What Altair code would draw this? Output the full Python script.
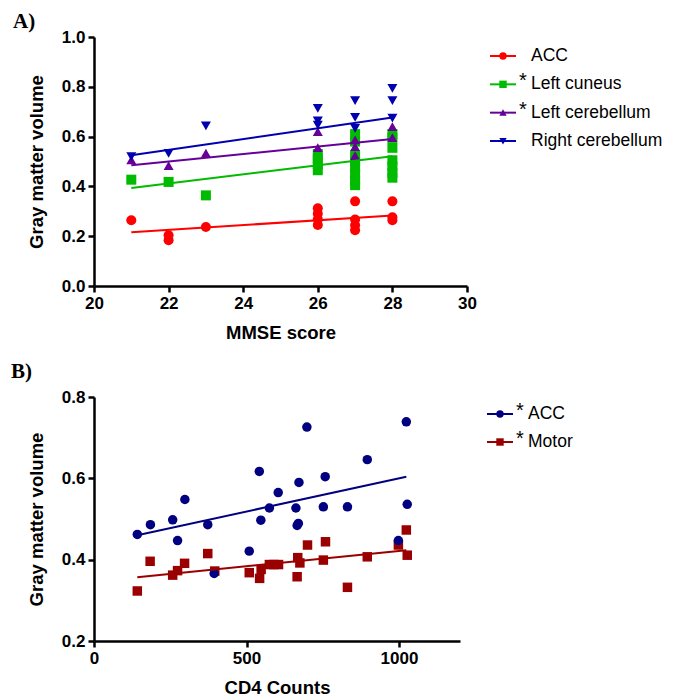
import altair as alt
import pandas as pd

# ---------------- Panel A: gray matter volume vs MMSE score ----------------
a_series = ["ACC", "Left cuneus", "Left cerebellum", "Right cerebellum"]
a_stars = ["", "*", "*", ""]
a_colors = ["#ff0000", "#00bb00", "#660099", "#0000b0"]
a_shapes = ["circle", "square", "M-1,0.8L1,0.8L0,-0.95Z", "M-1,-0.8L1,-0.8L0,0.95Z"]

a_acc_x = [21, 22, 22, 23, 26, 26, 26, 26, 27, 27, 27, 27, 28, 28, 28]
a_acc_y = [0.264, 0.204, 0.184, 0.237, 0.312, 0.29, 0.268, 0.245,
           0.340, 0.267, 0.244, 0.224, 0.340, 0.276, 0.264]

a_cun_x = [21, 22, 23, 26, 26, 26, 26, 27, 27, 27, 27, 27, 27, 27, 27,
           28, 28, 28, 28, 28, 28, 28]
a_cun_y = [0.427, 0.418, 0.364, 0.53, 0.51, 0.49, 0.465,
           0.61, 0.58, 0.525, 0.50, 0.475, 0.45, 0.425, 0.405,
           0.61, 0.595, 0.555, 0.505, 0.48, 0.455, 0.435]

a_lcb_x = [21, 22, 23, 26, 26, 27, 27, 27, 28, 28]
a_lcb_y = [0.505, 0.482, 0.532, 0.618, 0.554, 0.585, 0.558, 0.522, 0.639, 0.594]

a_rcb_x = [21, 22, 23, 26, 26, 26, 27, 27, 27, 28, 28, 28]
a_rcb_y = [0.521, 0.534, 0.645, 0.715, 0.665, 0.648, 0.746, 0.679, 0.635,
           0.795, 0.746, 0.676]

a_fit_x = [21, 28]
a_fit_start = [0.216, 0.394, 0.485, 0.525]
a_fit_end = [0.283, 0.521, 0.590, 0.677]

a_xticks = [20, 22, 24, 26, 28, 30]
a_yticks = [0.0, 0.2, 0.4, 0.6, 0.8, 1.0]

# ---------------- Panel B: gray matter volume vs CD4 counts ----------------
b_series = ["ACC", "Motor"]
b_stars = ["*", "*"]
b_colors = ["#000080", "#9b0000"]
b_shapes = ["circle", "square"]

b_acc_x = [142, 185, 258, 274, 298, 373, 394, 509, 542, 547, 575, 604, 662, 666,
           672, 670, 698, 752, 758, 831, 896, 998, 1024, 1027]
b_acc_y = [0.462, 0.486, 0.498, 0.447, 0.548, 0.486, 0.366, 0.421, 0.617, 0.497,
           0.527, 0.565, 0.527, 0.484, 0.590, 0.489, 0.726, 0.530, 0.604, 0.530,
           0.646, 0.447, 0.739, 0.536]

b_mot_x = [142, 184, 258, 274, 297, 373, 396, 509, 543, 548, 575, 590, 605, 666,
           668, 675, 700, 752, 759, 831, 896, 998, 1024, 1027]
b_mot_y = [0.323, 0.396, 0.362, 0.373, 0.391, 0.415, 0.372, 0.368, 0.354, 0.376,
           0.388, 0.388, 0.388, 0.358, 0.405, 0.392, 0.436, 0.399, 0.444, 0.332,
           0.407, 0.436, 0.473, 0.411]

b_fit_x = [142, 1024]
b_fit_start = [0.460, 0.357]
b_fit_end = [0.604, 0.423]

b_xticks = [0, 500, 1000]
b_yticks = [0.2, 0.4, 0.6, 0.8]

FONT = "Liberation Sans"


def long_df(names, xs, ys):
    rows = []
    for name, xl, yl in zip(names, xs, ys):
        for x, y in zip(xl, yl):
            rows.append({"series": name, "x": x, "y": y})
    return pd.DataFrame(rows)


def fit_df(names, fx, y0, y1):
    rows = []
    for name, a, b in zip(names, y0, y1):
        rows.append({"series": name, "x": fx[0], "y": a})
        rows.append({"series": name, "x": fx[1], "y": b})
    return pd.DataFrame(rows)


def panel(tag, tag_x, tag_y, pts, fit, names, stars, colors, shapes, size,
          xdom, xticks, xfmt, ydom, yticks, xtitle, w, h, leg_x, leg_range):
    color = alt.Color("series:N", scale=alt.Scale(domain=names, range=colors), legend=None)
    shape = alt.Shape("series:N", scale=alt.Scale(domain=names, range=shapes), legend=None)
    xenc = alt.X("x:Q", scale=alt.Scale(domain=xdom, nice=False, zero=False),
                 axis=alt.Axis(values=xticks, format=xfmt, title=xtitle, titlePadding=12))
    yenc = alt.Y("y:Q", scale=alt.Scale(domain=ydom, nice=False, zero=False),
                 axis=alt.Axis(values=yticks, format=".1f", title="Gray matter volume",
                               titlePadding=15))
    points = alt.Chart(pts).mark_point(filled=True, opacity=1, size=size).encode(
        x=xenc, y=yenc, color=color, shape=shape)
    lines = alt.Chart(fit).mark_line(strokeWidth=2).encode(
        x=xenc, y=yenc, color=color, detail="series:N")
    tag_mark = alt.Chart(pd.DataFrame({"t": [tag]})).mark_text(
        font="Liberation Serif", fontWeight="bold", fontSize=21,
        align="left", baseline="top", color="black").encode(
        text="t:N", x=alt.value(tag_x), y=alt.value(tag_y))
    inner = alt.layer(points, lines, tag_mark)

    leg = pd.DataFrame({"series": names, "star": stars})
    ly = alt.Y("series:N", sort=names, axis=None,
               scale=alt.Scale(type="point", domain=names, range=leg_range, padding=0))
    rule = alt.Chart(leg).mark_rule(strokeWidth=2).encode(
        x=alt.value(leg_x), x2=alt.value(leg_x + 26), y=ly, color=color)
    sym = alt.Chart(leg).mark_point(filled=True, opacity=1, size=55).encode(
        x=alt.value(leg_x + 13), y=ly, color=color, shape=shape)
    star = alt.Chart(leg).mark_text(font=FONT, fontSize=20, align="left",
                                    baseline="middle", dy=-3, color="black").encode(
        x=alt.value(leg_x + 29), y=ly, text="star:N")
    label = alt.Chart(leg).mark_text(font=FONT, fontSize=17.5, align="left",
                                     baseline="middle", color="black").encode(
        x=alt.value(leg_x + 41), y=ly, text="series:N")
    legend = alt.layer(rule, sym, star, label)

    return alt.layer(inner, legend).resolve_scale(y="independent").properties(
        width=w, height=h)


dfA = long_df(a_series, [a_acc_x, a_cun_x, a_lcb_x, a_rcb_x],
              [a_acc_y, a_cun_y, a_lcb_y, a_rcb_y])
fitA = fit_df(a_series, a_fit_x, a_fit_start, a_fit_end)

# Motor drawn first so ACC circles sit on top
dfB = long_df(["Motor", "ACC"], [b_mot_x, b_acc_x], [b_mot_y, b_acc_y])
fitB = fit_df(b_series, b_fit_x, b_fit_start, b_fit_end)

chartA = panel("A)", -81, -26, dfA, fitA, a_series, a_stars, a_colors, a_shapes, 100,
               [20, 30], a_xticks, "d", [0, 1], a_yticks, "MMSE score",
               373, 249, 396, [19, 104])
chartB = panel("B)", -83, -36, dfB, fitB, b_series, b_stars, b_colors, b_shapes, 90,
               [0, 1200], b_xticks, "d", [0.2, 0.8], b_yticks, "CD4 Counts",
               366, 244, 393, [17, 45])

chart = alt.vconcat(chartA, chartB, spacing=19).resolve_scale(
    color="independent", shape="independent"
).properties(
    padding={"left": 3, "top": 3, "right": 0, "bottom": 0}
).configure_view(stroke=None).configure_axis(
    domainColor="black", domainWidth=2.5, tickColor="black", tickWidth=2.5, tickSize=6,
    labelFont=FONT, labelFontWeight="bold", labelFontSize=17, labelColor="black",
    labelPadding=3, labelFlush=False, labelOverlap=False,
    titleFont=FONT, titleFontWeight="bold", titleFontSize=18.5, titleColor="black",
    grid=False)

chart.save("out.html", embed_options={"renderer": "svg", "actions": False})
